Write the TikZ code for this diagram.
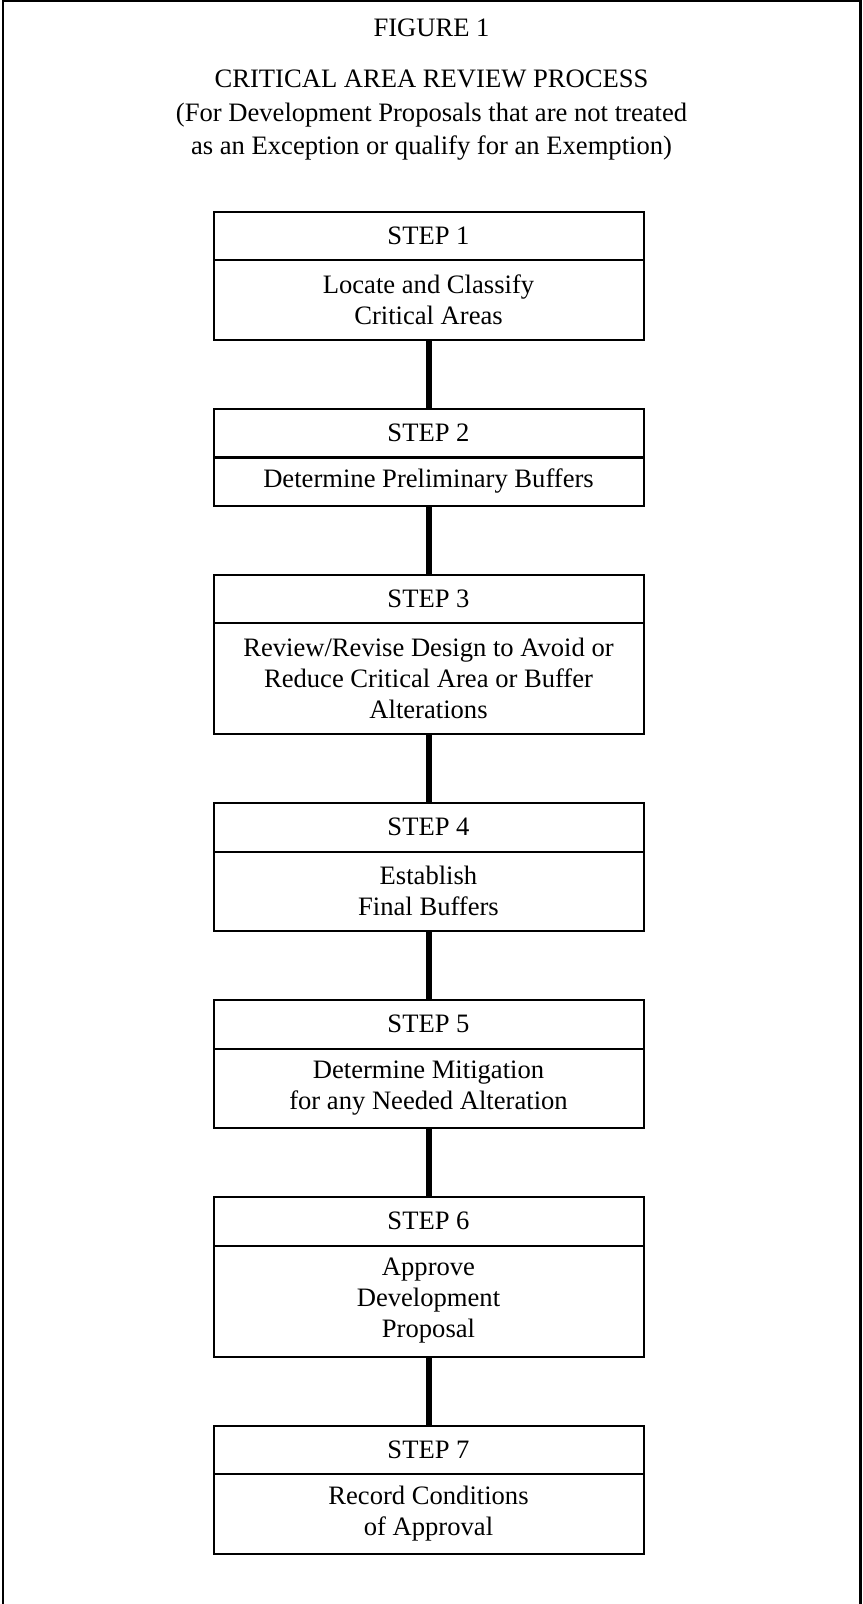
\documentclass[tikz,border=0pt]{standalone}
\usepackage{fontspec}
\setmainfont{Liberation Serif}
\usetikzlibrary{positioning}
\tikzset{
  stephead/.style={draw, line width=1pt, outer sep=0pt, inner sep=0pt,
                   minimum width=215pt, minimum height=24.25pt,
                   font=\fontsize{13.3}{15.5}\selectfont},
  stepbody/.style={draw, line width=1pt, outer sep=0pt, inner sep=0pt,
                   minimum width=215pt, minimum height=#1, align=center,
                   font=\fontsize{13.3}{15.5}\selectfont},
  link/.style={line width=3pt},
  ttl/.style={font=\fontsize{13.3}{16.75}\selectfont, align=center},
}
\begin{document}
\begin{tikzpicture}[x=0.5pt, y=-0.5pt]
\useasboundingbox (0,0) rectangle (862,1604);
% Frame (open at the bottom)
\draw[line width=1.1pt] (3,1604) -- (3,1.2) -- (860.5,1.2) -- (860.5,1604);
% Titles
\node[ttl, anchor=base] (fig) at (431.5,37) {FIGURE 1};
\node[ttl] (title) at (431.5,115.5) {CRITICAL AREA REVIEW PROCESS\\
(For Development Proposals that are not treated\\
as an Exception or qualify for an Exemption)};
% Steps
\node[stephead, anchor=north] (h1) at (428.5,212) {STEP 1};
\node[stepbody=39.75pt, below=0pt of h1] (b1) {Locate and Classify\\Critical Areas};
\node[stephead, below=34.5pt of b1] (h2) {STEP 2};
\node[stepbody=24pt, below=0pt of h2] (b2) {Determine Preliminary Buffers};
\node[stephead, below=34.5pt of b2] (h3) {STEP 3};
\node[stepbody=55.5pt, below=0pt of h3] (b3) {Review/Revise Design to Avoid or\\Reduce Critical Area or Buffer\\Alterations};
\node[stephead, below=34.5pt of b3] (h4) {STEP 4};
\node[stepbody=39.75pt, below=0pt of h4] (b4) {Establish\\Final Buffers};
\node[stephead, below=34.5pt of b4] (h5) {STEP 5};
\node[stepbody=39.75pt, below=0pt of h5] (b5) {Determine Mitigation\\for any Needed Alteration};
\node[stephead, below=34.5pt of b5] (h6) {STEP 6};
\node[stepbody=55.5pt, below=0pt of h6] (b6) {Approve\\Development\\Proposal};
\node[stephead, below=34.5pt of b6] (h7) {STEP 7};
\node[stepbody=39.75pt, below=0pt of h7] (b7) {Record Conditions\\of Approval};
% Links
\foreach \i [evaluate=\i as \j using int(\i+1)] in {1,...,6}
  \draw[link] (b\i) -- (h\j);
\end{tikzpicture}
\end{document}
